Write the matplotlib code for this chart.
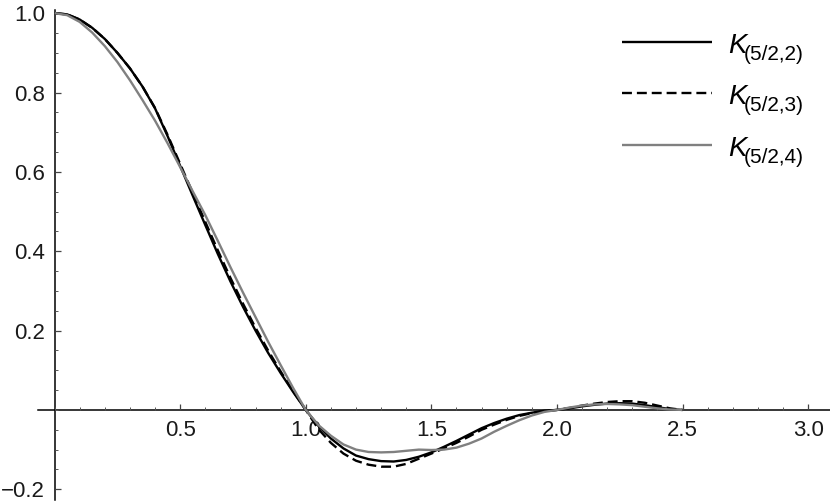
import numpy as np
import matplotlib
matplotlib.use("Agg")
import matplotlib.pyplot as plt
from matplotlib.ticker import FixedLocator, MultipleLocator

plt.rcParams['font.family'] = ['Liberation Sans', 'DejaVu Sans']

# sample positions (r)
r = [0.00, 0.05, 0.10, 0.15, 0.20, 0.25, 0.30, 0.35, 0.40, 0.45,
     0.50, 0.55, 0.60, 0.65, 0.70, 0.75, 0.80, 0.85, 0.90, 0.95,
     1.00, 1.05, 1.10, 1.15, 1.20, 1.25, 1.30, 1.35, 1.40, 1.45,
     1.50, 1.55, 1.60, 1.65, 1.70, 1.75, 1.80, 1.85, 1.90, 1.95,
     2.00, 2.05, 2.10, 2.15, 2.20, 2.25, 2.30, 2.35, 2.40, 2.45, 2.50]

k_2 = [1.000, 0.997, 0.984, 0.963, 0.935, 0.900, 0.861, 0.815, 0.760, 0.690,
       0.615, 0.540, 0.466, 0.393, 0.324, 0.260, 0.200, 0.144, 0.093, 0.045,
       0.000, -0.040, -0.072, -0.097, -0.115, -0.124, -0.129, -0.130, -0.126, -0.118,
       -0.107, -0.093, -0.078, -0.062, -0.046, -0.033, -0.022, -0.013, -0.007, -0.002,
       0.000, 0.004, 0.009, 0.013, 0.016, 0.017, 0.016, 0.012, 0.007, 0.002, 0.000]

k_3 = [1.000, 0.997, 0.984, 0.963, 0.935, 0.900, 0.861, 0.815, 0.761, 0.693,
       0.620, 0.547, 0.474, 0.402, 0.333, 0.268, 0.207, 0.150, 0.097, 0.047,
       0.000, -0.048, -0.083, -0.110, -0.128, -0.138, -0.143, -0.143, -0.136, -0.123,
       -0.110, -0.097, -0.083, -0.067, -0.050, -0.037, -0.025, -0.015, -0.008, -0.003,
       0.000, 0.005, 0.011, 0.016, 0.020, 0.022, 0.022, 0.018, 0.011, 0.004, 0.000]

k_4 = [1.000, 0.995, 0.978, 0.951, 0.917, 0.877, 0.831, 0.781, 0.729, 0.672,
       0.612, 0.551, 0.491, 0.426, 0.360, 0.296, 0.234, 0.172, 0.113, 0.055,
       0.000, -0.038, -0.065, -0.087, -0.100, -0.106, -0.107, -0.106, -0.103, -0.100,
       -0.101, -0.100, -0.095, -0.085, -0.072, -0.055, -0.040, -0.026, -0.014, -0.005,
       0.000, 0.006, 0.011, 0.014, 0.015, 0.014, 0.012, 0.008, 0.004, 0.001, 0.000]

label_main = ['K', 'K', 'K']
label_sub = ['(5/2,2)', '(5/2,3)', '(5/2,4)']
x_ticks = [0.5, 1.0, 1.5, 2.0, 2.5, 3.0]
x_tick_labels = ['0.5', '1.0', '1.5', '2.0', '2.5', '3.0']
y_ticks = [-0.2, 0.2, 0.4, 0.6, 0.8, 1.0]
y_tick_labels = ['\u22120.2', '0.2', '0.4', '0.6', '0.8', '1.0']

W, H = 830, 504
fig = plt.figure(figsize=(W / 100, H / 100), dpi=100)
ax_left, ax_right, ax_top, ax_bottom = 38, 830, 10, 500
ax = fig.add_axes([ax_left / W, (H - ax_bottom) / H, (ax_right - ax_left) / W, (ax_bottom - ax_top) / H])
ax.set_xlim(-0.066, 3.087)
ax.set_ylim(-0.227, 1.008)

styles = [dict(color='black', lw=1.7, ls='-'),
          dict(color='black', lw=1.7, ls=(0, (4.2, 2.1))),
          dict(color='#808080', lw=1.7, ls='-')]
series = [k_2, k_3, k_4]
for ys, st in zip(series, styles):
    ax.plot(r, ys, solid_capstyle='butt', dash_capstyle='butt',
            solid_joinstyle='round', **st)

for s in ['top', 'right']:
    ax.spines[s].set_visible(False)
ax.spines['left'].set_position(('data', 0))
ax.spines['bottom'].set_position(('data', 0))
for s in ['left', 'bottom']:
    ax.spines[s].set_linewidth(1.1)
    ax.spines[s].set_zorder(0.5)

ax.xaxis.set_major_locator(FixedLocator(x_ticks))
ax.set_xticklabels(x_tick_labels)
ax.yaxis.set_major_locator(FixedLocator(y_ticks))
ax.set_yticklabels(y_tick_labels)
ax.xaxis.set_minor_locator(MultipleLocator(0.1))
ax.yaxis.set_minor_locator(MultipleLocator(0.05))
ax.tick_params(which='major', direction='in', length=4, width=0.9, color='#444444',
               labelsize=16, labelcolor='#1a1a1a')
ax.tick_params(which='minor', direction='in', length=2.5, width=0.7, color='#555555')
ax.tick_params(axis='x', which='major', pad=7)
ax.tick_params(axis='y', which='major', pad=7)

# legend drawn in pixel layout
leg_y = [41.7, 93.3, 145.0]
for m, sub, st, yp in zip(label_main, label_sub, styles, leg_y):
    fig.add_artist(plt.Line2D([622 / W, 712 / W], [1 - yp / H, 1 - yp / H],
                              transform=fig.transFigure, solid_capstyle='butt',
                              dash_capstyle='butt', **st))
    fig.text(728 / W, 1 - (yp + 11) / H, m, fontsize=20, style='italic',
             va='baseline', ha='left', color='black')
    fig.text(744 / W, 1 - (yp + 18) / H, sub, fontsize=15,
             va='baseline', ha='left', color='black')

fig.savefig('out.png', dpi=100)
